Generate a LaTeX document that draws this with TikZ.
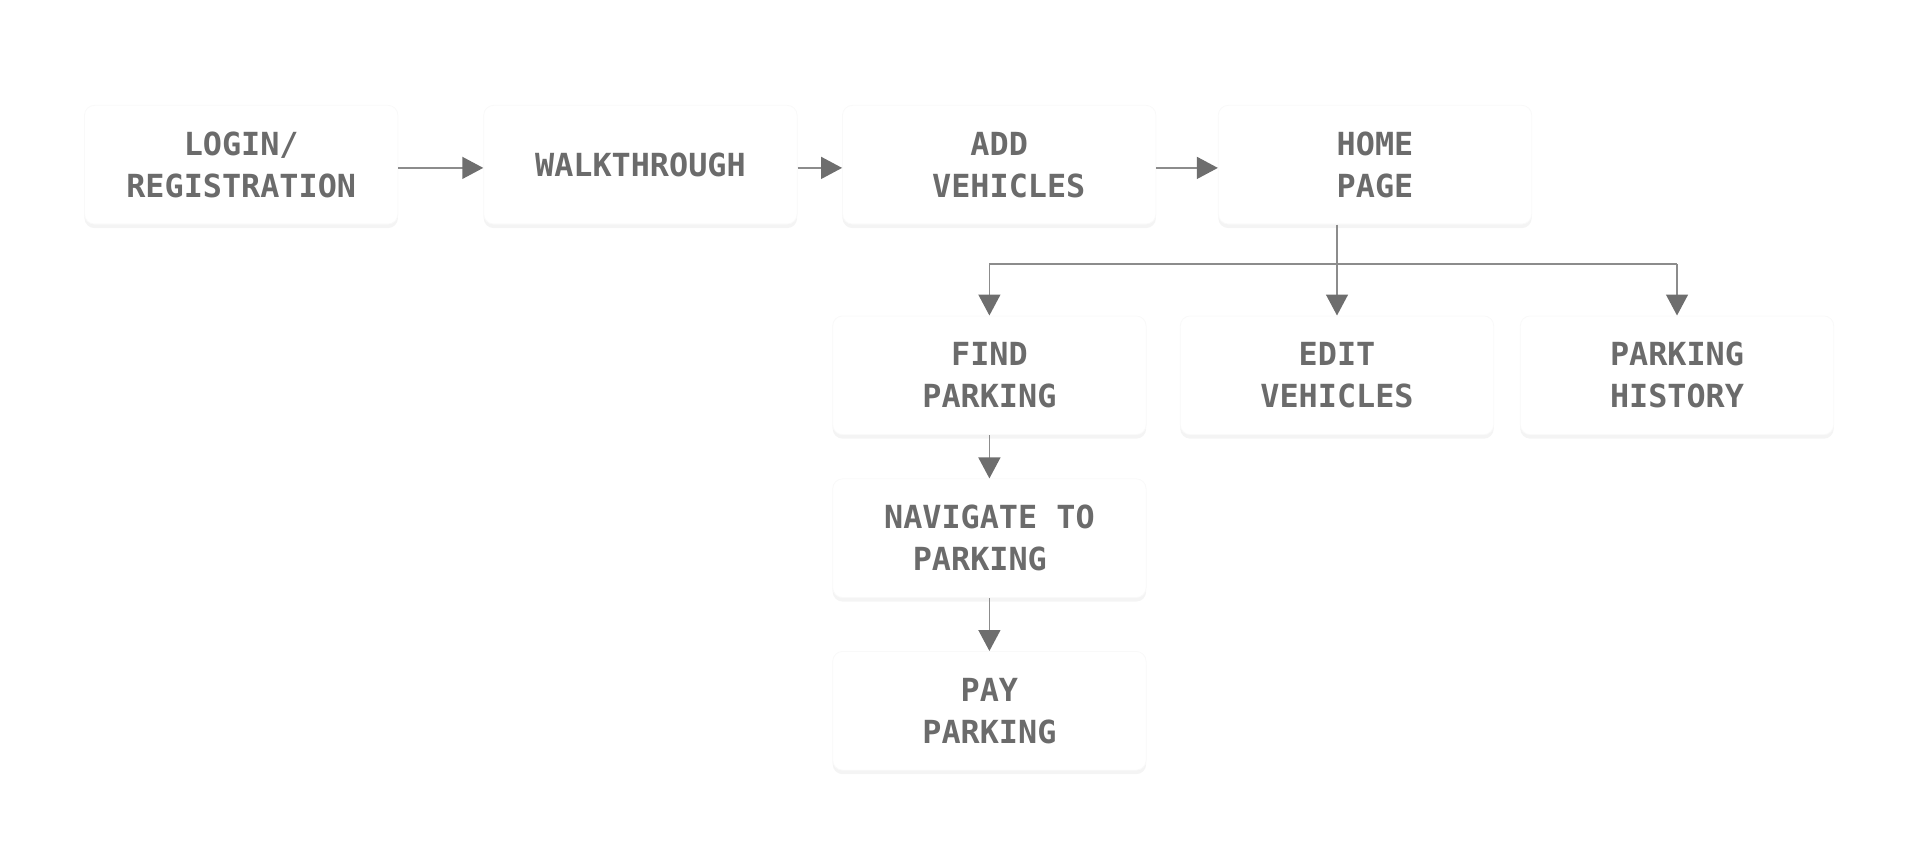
\documentclass[tikz,border=0pt]{standalone}
\usepackage{fontspec}
\usetikzlibrary{arrows.meta,shadows,positioning}
\newfontfamily\monofont{DejaVu Sans Mono}
\definecolor{txtgray}{HTML}{6B6B6B}
\definecolor{linegray}{HTML}{8C8C8C}
\definecolor{tipgray}{HTML}{6E6E6E}

\begin{document}
\begin{tikzpicture}[x=0.5pt,y=-0.5pt]

\useasboundingbox (0,0) rectangle (1920,867);

% set style here
\tikzstyle{screen}=[rounded corners=5pt,fill=white,draw=black!2.5,
  minimum width=156.75pt,minimum height=59.4pt,align=center,
  text=txtgray,font=\monofont\bfseries\fontsize{15.9}{21}\selectfont,
  drop shadow={opacity=0.09,shadow xshift=0pt,shadow yshift=-2pt}];
\tikzstyle{flow}=[draw=linegray,line width=0.75pt,
  -{Triangle[length=10.5pt,width=11pt,color=tipgray]}];
%
\node (login) at (241.2,164.7) [screen] {LOGIN/\\REGISTRATION};
\node (walk) at (640.4,164.7) [screen] {WALKTHROUGH};
\node (addveh) at (999.2,164.7) [screen] {ADD\\\hphantom{X}VEHICLES};
\node (home) at (1375,164.7) [screen] {HOME\\PAGE};
\node (find) at (989.4,375.3) [screen] {FIND\\PARKING};
\node (editveh) at (1337,375.3) [screen] {EDIT\\VEHICLES};
\node (hist) at (1677,375.3) [screen] {PARKING\\HISTORY};
\node (nav) at (989.4,538.2) [screen] {NAVIGATE TO\\PARKING\hphantom{X}};
\node (pay) at (989.4,710.8) [screen] {PAY\\PARKING};

\draw[flow] ([yshift=-1.6pt]login.east) -- ([yshift=-1.6pt]walk.west);
\draw[flow] ([yshift=-1.6pt]walk.east) -- ([yshift=-1.6pt]addveh.west);
\draw[flow] ([yshift=-1.6pt]addveh.east) -- ([yshift=-1.6pt]home.west);

% branch out of the home page
\coordinate (busl) at (989.4,264);
\coordinate (busr) at (1677,264);
\draw[draw=linegray,line width=0.75pt] (busl) -- (busr);
\draw[flow] (editveh |- home.south) -- (editveh);
\draw[flow] (busl) -- (find);
\draw[flow] (busr) -- (hist);

\draw[flow] (find) -- (nav);
\draw[flow] (nav) -- (pay);

\end{tikzpicture}
\end{document}
